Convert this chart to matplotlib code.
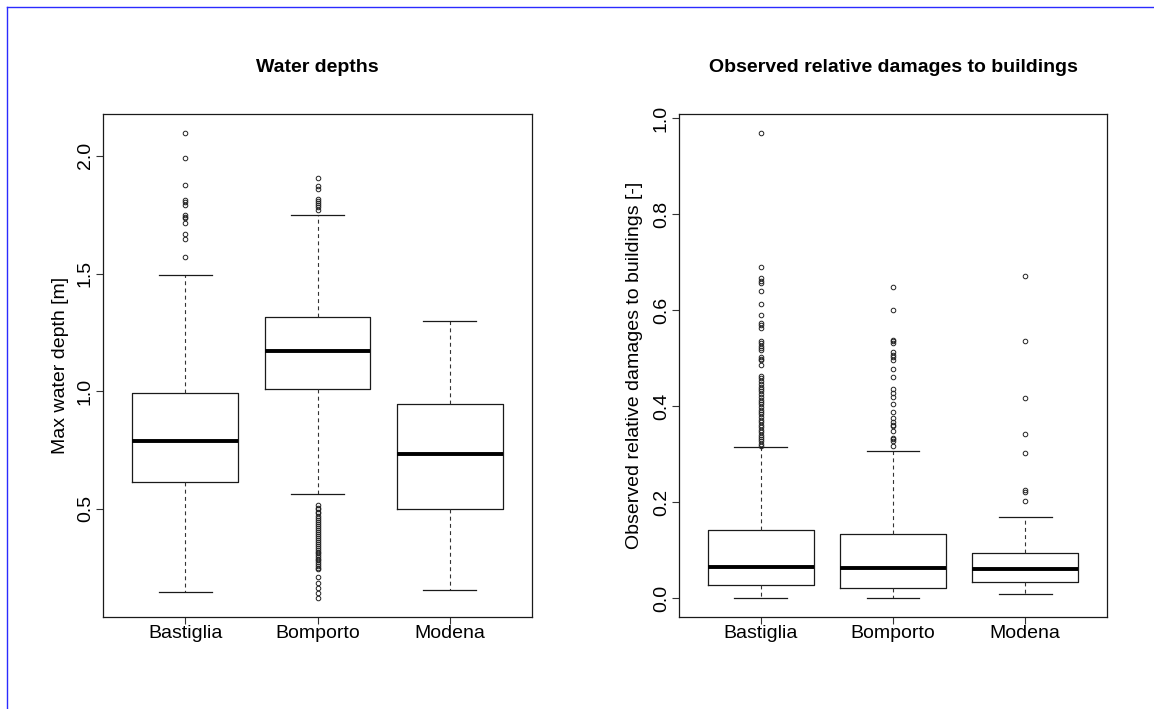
import matplotlib
matplotlib.use("Agg")
import matplotlib.pyplot as plt
from matplotlib.lines import Line2D

plt.rcParams['font.family'] = ['Liberation Sans', 'DejaVu Sans']

towns = ['Bastiglia', 'Bomporto', 'Modena']

# water depth summaries [m]
depth_med = [0.789, 1.170, 0.734]
depth_q1 = [0.613, 1.009, 0.500]
depth_q3 = [0.993, 1.316, 0.946]
depth_lo = [0.145, 0.561, 0.156]
depth_hi = [1.492, 1.748, 1.298]
depth_out = [
    [2.099, 1.993, 1.875, 1.812, 1.803, 1.793, 1.748, 1.740, 1.734, 1.713,
     1.670, 1.647, 1.572],
    [1.908, 1.871, 1.861, 1.816, 1.807, 1.799, 1.790, 1.782, 1.769,
     0.515, 0.505, 0.497, 0.488, 0.480, 0.470, 0.462, 0.452, 0.445, 0.436,
     0.428, 0.418, 0.410, 0.401, 0.392, 0.384, 0.375, 0.366, 0.358, 0.350,
     0.341, 0.333, 0.325, 0.318, 0.310, 0.302, 0.295, 0.287, 0.280, 0.272,
     0.265, 0.258, 0.250, 0.242, 0.211, 0.183, 0.162, 0.140, 0.119],
    [],
]

# relative damage summaries [-]
dmg_med = [0.065, 0.063, 0.061]
dmg_q1 = [0.028, 0.022, 0.035]
dmg_q3 = [0.143, 0.135, 0.094]
dmg_lo = [0.0, 0.0, 0.009]
dmg_hi = [0.316, 0.307, 0.169]
dmg_out = [
    [0.970, 0.690, 0.667, 0.661, 0.656, 0.640, 0.614, 0.590, 0.574, 0.569,
     0.564, 0.537, 0.531, 0.526, 0.521, 0.517, 0.503, 0.499, 0.496, 0.486,
     0.463, 0.458, 0.452, 0.447, 0.441, 0.436, 0.431, 0.425, 0.420, 0.414,
     0.409, 0.404, 0.399, 0.393, 0.388, 0.383, 0.378, 0.372, 0.367, 0.362,
     0.357, 0.351, 0.346, 0.341, 0.336, 0.331, 0.327, 0.322, 0.318],
    [0.649, 0.600, 0.538, 0.535, 0.532, 0.514, 0.507, 0.503, 0.496, 0.477,
     0.462, 0.436, 0.427, 0.420, 0.405, 0.389, 0.375, 0.368, 0.361, 0.358,
     0.349, 0.335, 0.331, 0.327, 0.318],
    [0.671, 0.537, 0.417, 0.343, 0.302, 0.225, 0.222, 0.203],
]


def make_stats(med, q1, q3, lo, hi, out):
    stats = []
    for i in range(len(towns)):
        stats.append(dict(med=med[i], q1=q1[i], q3=q3[i], whislo=lo[i],
                          whishi=hi[i], fliers=out[i], label=towns[i]))
    return stats


def r_boxplot(ax, stats, title, ylabel, yticks, label_x):
    ax.bxp(stats, positions=[1, 2, 3], widths=0.8, capwidths=0.4,
           boxprops=dict(color='#1a1a1a', linewidth=0.9),
           medianprops=dict(color='black', linewidth=2.8),
           whiskerprops=dict(color='#333333', linewidth=0.8,
                             linestyle=(0, (3.5, 3))),
           capprops=dict(color='#1a1a1a', linewidth=0.9),
           flierprops=dict(marker='o', markerfacecolor='none',
                           markeredgecolor='#222222', markersize=3.3,
                           markeredgewidth=0.7, linestyle='none'))
    # R style range padding (4%)
    vals = [v for s in stats for v in [s['whislo'], s['whishi']] + list(s['fliers'])]
    lo, hi = min(vals), max(vals)
    pad = 0.04 * (hi - lo)
    ax.set_ylim(lo - pad, hi + pad)
    ax.set_xlim(0.38, 3.62)
    ax.set_yticks(yticks)
    ax.set_yticklabels(['%.1f' % t for t in yticks], rotation=90, va='center')
    ax.set_xticks([1, 2, 3])
    ax.set_xticklabels(towns)
    ax.tick_params(axis='both', direction='out', length=5, width=0.8,
                   labelsize=14, color='#333333')
    ax.tick_params(axis='x', pad=1)
    ax.tick_params(axis='y', pad=1.5)
    for sp in ax.spines.values():
        sp.set_linewidth(0.9)
        sp.set_color('#1a1a1a')
    ax.set_title(title, fontsize=14, fontweight='bold', pad=30)
    ax.set_ylabel(ylabel, fontsize=14)
    ax.yaxis.set_label_coords(label_x, 0.5)


fig = plt.figure(figsize=(11.54, 7.09), dpi=100)
W, H = 1154, 709
ax1 = fig.add_axes([103 / W, 1 - 617 / H, 429 / W, 503 / H])
ax2 = fig.add_axes([679 / W, 1 - 617 / H, 428 / W, 503 / H])

r_boxplot(ax1, make_stats(depth_med, depth_q1, depth_q3, depth_lo, depth_hi, depth_out),
          'Water depths', 'Max water depth [m]', [0.5, 1.0, 1.5, 2.0], -0.080)
r_boxplot(ax2, make_stats(dmg_med, dmg_q1, dmg_q3, dmg_lo, dmg_hi, dmg_out),
          'Observed relative damages to buildings',
          'Observed relative damages to buildings [-]',
          [0.0, 0.2, 0.4, 0.6, 0.8, 1.0], -0.084)

# frame lines along the top and left edge
fig.add_artist(Line2D([7.3 / W, 1], [1 - 6.5 / H, 1 - 6.5 / H], color='#2b2bff',
                      linewidth=1.0, transform=fig.transFigure))
fig.add_artist(Line2D([7.3 / W, 7.3 / W], [0, 1 - 6.5 / H], color='#2b2bff',
                      linewidth=1.0, transform=fig.transFigure))

fig.savefig('out.png', dpi=100, facecolor='white')
